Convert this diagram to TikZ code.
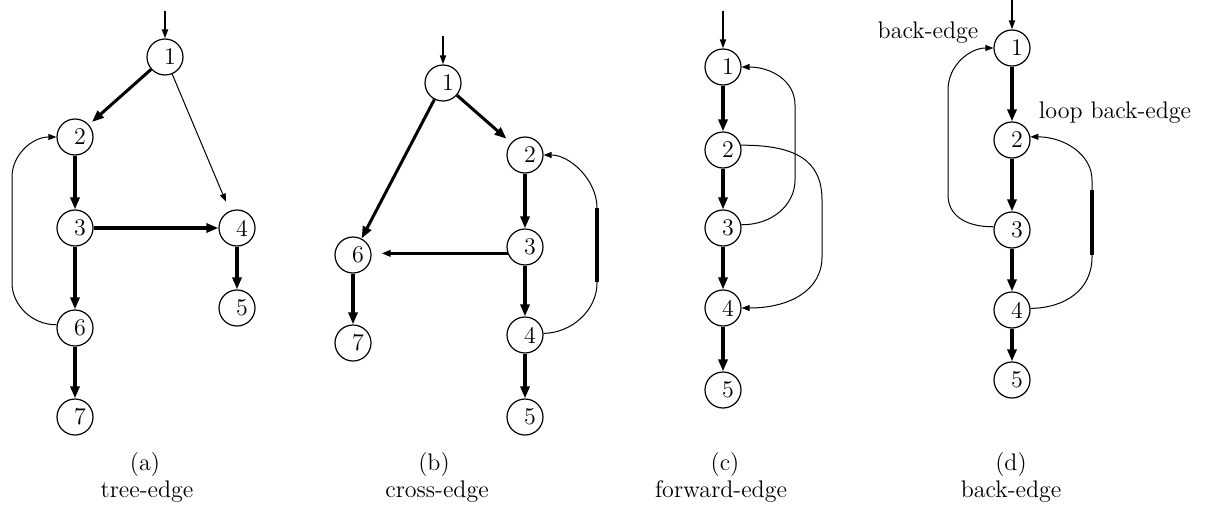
\documentclass[tikz,border=0pt]{standalone}
\usetikzlibrary{arrows.meta}
\newcommand{\vl}[1]{\hspace*{5pt}#1}
\begin{document}
\begin{tikzpicture}[x=0.5pt,y=-0.5pt,
  vtx/.style={circle,draw,line width=0.6pt,minimum size=18pt,inner sep=0pt,font=\fontsize{12}{12}\selectfont},
  tedge/.style={line width=2pt,-{Triangle[length=6pt,width=4.5pt]}},
  medge/.style={line width=1.5pt,-{Triangle[length=6pt,width=4.5pt]}},
  xedge/.style={line width=1.2pt,-{Triangle[length=4.5pt,width=3.2pt]}},
  entry/.style={line width=0.9pt,-{Triangle[length=4.5pt,width=3pt]}},
  backedge/.style={line width=0.5pt,-{Triangle[length=4pt,width=3pt]}},
  solidpart/.style={line width=1.6pt},
  captext/.style={font=\fontsize{12}{14}\selectfont},
  lab/.style={font=\fontsize{12}{14}\selectfont}
]
\useasboundingbox (0,0) rectangle (1208,514);

% ---------- (a) tree-edge
\node[vtx] (a1) at (165,57) {\vl1};
\node[vtx] (a2) at (75,137) {\vl2};
\node[vtx] (a3) at (75,228) {\vl3};
\node[vtx] (a4) at (237,228) {\vl4};
\node[vtx] (a5) at (237,308) {\vl5};
\node[vtx] (a6) at (75,328) {\vl6};
\node[vtx] (a7) at (75,417) {\vl7};
\coordinate (a0) at (165,11);
\draw[entry] (a0) -- (a1);
\draw[medge,shorten >=2pt] (a1) -- (a2);
\draw[backedge,shorten >=5pt] (a1) -- (a4);
\draw[tedge] (a2) -- (a3);
\draw[tedge] (a3) -- (a4);
\draw[tedge] (a3) -- (a6);
\draw[tedge] (a4) -- (a5);
\draw[tedge] (a6) -- (a7);
\draw[backedge] (a6.170) .. controls (32,325) and (12,305) .. (12,283)
  -- (12,177) .. controls (12,155) and (32,137) .. (a2.west);
\node[captext] (capa) at (145,465) {(a)};
\node[captext] (tna) at (147,492) {tree-edge};

% ---------- (b) cross-edge
\node[vtx] (b1) at (443,83) {\vl1};
\node[vtx] (b2) at (525,155) {\vl2};
\node[vtx] (b3) at (525,247) {\vl3};
\node[vtx] (b4) at (525,335) {\vl4};
\node[vtx] (b5) at (525,417) {\vl5};
\node[vtx] (b6) at (353,255) {\vl6};
\node[vtx] (b7) at (353,343) {\vl7};
\coordinate (b0) at (443,36);
\draw[entry] (b0) -- (b1);
\draw[medge,shorten >=3pt] (b1) -- (b2);
\draw[medge] (b1) -- (b6);
\draw[tedge] (b2) -- (b3);
\draw[tedge] (b3) -- (b4);
\draw[tedge] (b4) -- (b5);
\draw[tedge] (b6) -- (b7);
\draw[xedge,shorten >=5pt] (b3.200) -- (b3.200 -| b6.east);
\draw[backedge] (b4.5) .. controls (572,333) and (597,310) .. (597,283)
  -- (597,208) .. controls (597,180) and (570,155) .. (b2.east);
\draw[solidpart] (597,282) -- (597,208);
\node[captext] (capb) at (434,465) {(b)};
\node[captext] (tnb) at (437,492) {cross-edge};

% ---------- (c) forward-edge
\node[vtx] (c1) at (723,67) {\vl1};
\node[vtx] (c2) at (723,150) {\vl2};
\node[vtx] (c3) at (723,228) {\vl3};
\node[vtx] (c4) at (723,308) {\vl4};
\node[vtx] (c5) at (723,390) {\vl5};
\coordinate (c0) at (723,11);
\draw[entry] (c0) -- (c1);
\draw[tedge] (c1) -- (c2);
\draw[tedge] (c2) -- (c3);
\draw[tedge] (c3) -- (c4);
\draw[tedge] (c4) -- (c5);
\draw[backedge] (c3.10) .. controls (772,225) and (795,205) .. (795,180)
  -- (795,105) .. controls (795,80) and (770,67) .. (c1.east);
\draw[backedge] (c2.15) .. controls (795,145) and (822,160) .. (822,200)
  -- (822,257) .. controls (822,290) and (790,308) .. (c4.east);
\node[captext] (capc) at (725,465) {(c)};
\node[captext] (tnc) at (721,492) {forward-edge};

% ---------- (d) back-edge
\node[vtx] (d1) at (1012,48) {\vl1};
\node[vtx] (d2) at (1012,140) {\vl2};
\node[vtx] (d3) at (1012,230) {\vl3};
\node[vtx] (d4) at (1012,310) {\vl4};
\node[vtx] (d5) at (1012,380) {\vl5};
\coordinate (d0) at (1012,0);
\draw[entry] (d0) -- (d1);
\draw[tedge] (d1) -- (d2);
\draw[tedge] (d2) -- (d3);
\draw[tedge] (d3) -- (d4);
\draw[tedge] (d4) -- (d5);
\draw[backedge] (d3.170) .. controls (965,227) and (948,215) .. (948,195)
  -- (948,90) .. controls (948,65) and (970,48) .. (d1.west);
\draw[backedge] (d4.5) .. controls (1065,308) and (1092,290) .. (1092,257)
  -- (1092,180) .. controls (1092,155) and (1065,137) .. (d2.10);
\draw[solidpart] (1092,255) -- (1092,190);
\node[lab] (lbe) at (928,33) {back-edge};
\node[lab] (llbe) at (1115,113) {loop back-edge};
\node[captext] (capd) at (1011,465) {(d)};
\node[captext] (tnd) at (1011,492) {back-edge};
\end{tikzpicture}
\end{document}
